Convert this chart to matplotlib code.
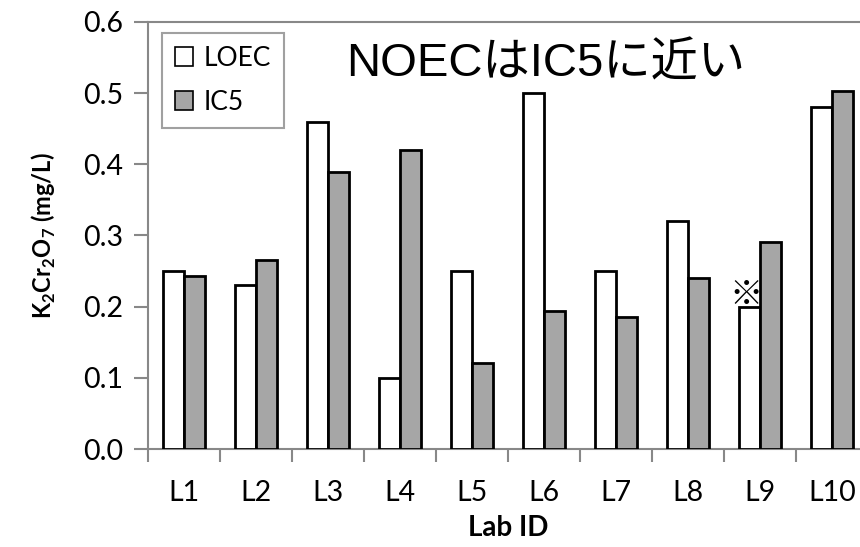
import matplotlib
matplotlib.use("Agg")
import matplotlib.pyplot as plt
import numpy as np
from matplotlib.patches import Patch

labs = ["L1", "L2", "L3", "L4", "L5", "L6", "L7", "L8", "L9", "L10"]
loec = [0.25, 0.23, 0.46, 0.10, 0.25, 0.50, 0.25, 0.32, 0.20, 0.48]
ic5 = [0.243, 0.266, 0.389, 0.420, 0.121, 0.194, 0.185, 0.240, 0.291, 0.503]
yticks = [0.0, 0.1, 0.2, 0.3, 0.4, 0.5, 0.6]

W, H = 860, 547
fig = plt.figure(figsize=(W / 100, H / 100), dpi=100)
left, right, top, bottom = 148, 868, 22, 449
ax = fig.add_axes([left / W, 1 - bottom / H, (right - left) / W, (bottom - top) / H])

x = np.arange(len(labs))
bw = 0.29
gray = "#a6a6a6"
ax.bar(x - bw / 2, loec, bw, color="white", edgecolor="black", linewidth=2.0, label="LOEC", zorder=3)
ax.bar(x + bw / 2, ic5, bw, color=gray, edgecolor="black", linewidth=2.0, label="IC5", zorder=3)

ax.set_xlim(-0.5, len(labs) - 0.5)
ax.set_ylim(0, 0.6)
ax.set_yticks(yticks)
ax.set_yticklabels([f"{v:.1f}" for v in yticks])

ax.set_xticks(np.arange(len(labs) + 1) - 0.5)
ax.set_xticklabels([])
ax.set_xticks(x, minor=True)
ax.set_xticklabels(labs, minor=True)

FONT = ["Lato", "DejaVu Sans"]
axis_col = "#888888"
for s in ["left", "bottom", "top", "right"]:
    ax.spines[s].set_color(axis_col)
    ax.spines[s].set_linewidth(1.5)
ax.tick_params(axis="y", which="major", direction="out", length=10, width=1.5, color=axis_col,
               labelsize=20.5, pad=8)
ax.tick_params(axis="x", which="major", direction="out", length=9, width=1.5, color=axis_col)
ax.tick_params(axis="x", which="minor", length=0, labelsize=20.5, pad=22)
for lbl in ax.get_yticklabels() + ax.get_xticklabels(minor=True):
    lbl.set_family(FONT)

ax.set_xlabel("Lab ID", fontsize=20, fontweight="bold", family=FONT, labelpad=7)
ax.set_ylabel(r"K$_\mathregular{2}$Cr$_\mathregular{2}$O$_\mathregular{7}$ (mg/L)", fontsize=17,
              fontweight="bold", family=FONT, labelpad=18)

handles = [Patch(facecolor="white", edgecolor="black", linewidth=1.2),
           Patch(facecolor=gray, edgecolor="black", linewidth=1.2)]
leg = ax.legend(handles, ["LOEC", "IC5"], loc="upper left", bbox_to_anchor=(0.019, 0.975),
                borderaxespad=0, prop={"family": FONT, "size": 19},
                handlelength=0.7, handleheight=0.7, handletextpad=0.4,
                fancybox=False, frameon=True, borderpad=0.5, labelspacing=0.72)
leg.get_frame().set_edgecolor(axis_col)
leg.get_frame().set_linewidth(1.5)

ax.text(0.552, 0.9, "NOECはIC5に近い", transform=ax.transAxes, ha="center", va="center",
        fontsize=34, family=["Liberation Sans", "Noto Sans CJK JP"])

ax.text(x[8] - bw / 2 - 0.05, loec[8] + 0.016, "※", ha="center", va="center", fontsize=24,
        fontweight="bold", family=["Noto Sans CJK JP", "DejaVu Sans"], zorder=2.5)

fig.savefig("out.png", dpi=100)
